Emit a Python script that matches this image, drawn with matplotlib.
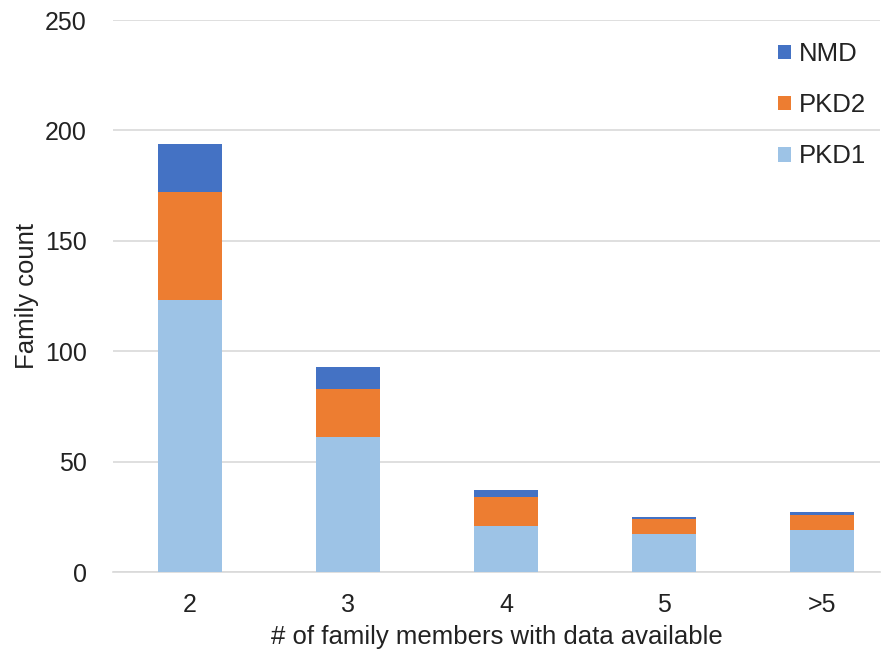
import matplotlib
matplotlib.use("Agg")
import matplotlib.pyplot as plt
import numpy as np

plt.rcParams['font.family'] = ['Liberation Sans', 'DejaVu Sans']

categories = ["2", "3", "4", "5", ">5"]
pkd1 = [123, 61, 21, 17, 19]
pkd2 = [49, 22, 13, 7, 7]
nmd = [22, 10, 3, 1, 1]

c_pkd1 = "#9DC3E6"
c_pkd2 = "#ED7D31"
c_nmd = "#4472C4"

W, H = 886, 655
fig = plt.figure(figsize=(W / 100, H / 100), dpi=100)
left, right, bottom, top = 113, 880, 572, 20
ax = fig.add_axes([left / W, (H - bottom) / H, (right - left) / W, (bottom - top) / H])

x = np.arange(len(categories))
bw = 0.4
b1 = ax.bar(x, pkd1, bw, color=c_pkd1, label="PKD1", zorder=3)
b2 = ax.bar(x, pkd2, bw, bottom=pkd1, color=c_pkd2, label="PKD2", zorder=3)
base3 = np.array(pkd1) + np.array(pkd2)
b3 = ax.bar(x, nmd, bw, bottom=base3, color=c_nmd, label="NMD", zorder=3)

ax.set_xlim((left - 190) / 158, (right - 190) / 158)
ax.set_ylim(0, 250)
ax.set_yticks([0, 50, 100, 150, 200, 250])
ax.set_xticks(x)
ax.set_xticklabels(categories)
ax.yaxis.grid(True, color="#D9D9D9", linewidth=1.2, zorder=0)
ax.set_axisbelow(True)
for s in ["top", "right", "left"]:
    ax.spines[s].set_visible(False)
ax.spines["bottom"].set_color("#D9D9D9")
ax.spines["bottom"].set_linewidth(1.2)
ax.tick_params(axis="both", length=0, labelsize=18, colors="#222222")
ax.tick_params(axis="y", pad=19)
ax.tick_params(axis="x", pad=15)

ax.set_xlabel("# of family members with data available", fontsize=18.5, color="#222222", labelpad=6)
ax.set_ylabel("Family count", fontsize=18.5, color="#222222", labelpad=4)

leg = ax.legend(handles=[b3, b2, b1], labels=["NMD", "PKD2", "PKD1"],
                loc="upper left", bbox_to_anchor=(778 / W, (H - 42) / H),
                bbox_transform=fig.transFigure, frameon=False, fontsize=18.5,
                borderpad=0, borderaxespad=0,
                handlelength=0.5, handleheight=0.5, handletextpad=0.3,
                labelspacing=1.06)
for t in leg.get_texts():
    t.set_color("#222222")

fig.savefig("out.png", dpi=100)
